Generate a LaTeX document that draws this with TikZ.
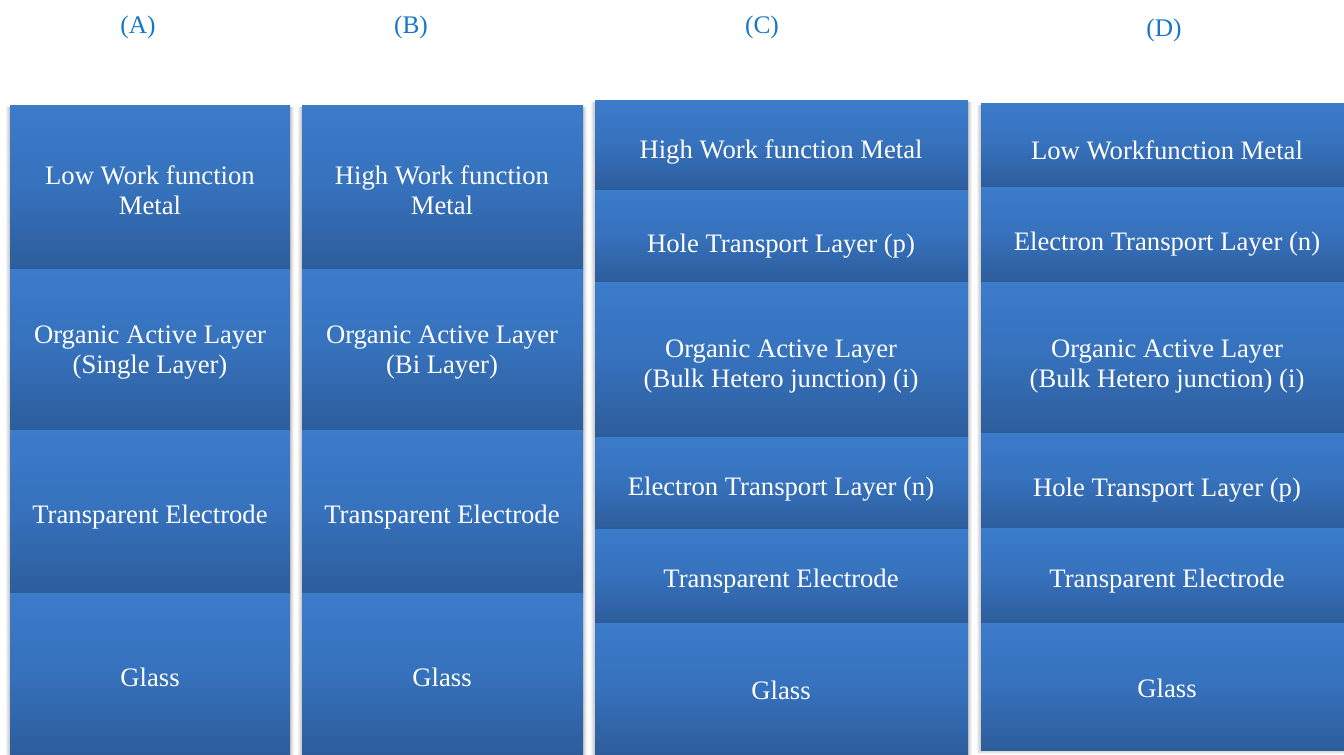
\documentclass[tikz,border=0pt]{standalone}
\usepackage{fontspec}
\setmainfont{Liberation Serif}
\usetikzlibrary{fit}
\definecolor{laytop}{HTML}{3B7CCB}
\definecolor{laymid}{HTML}{3671BC}
\definecolor{laybot}{HTML}{2D5D9B}
\definecolor{labblue}{HTML}{1776C6}
\tikzset{
  layer/.style={inner sep=0pt, outer sep=0pt, draw=none,
    top color=laytop, bottom color=laybot, middle color=laymid},
  txt/.style={text=white, font=\fontsize{20}{22.5}\selectfont, align=center, inner sep=0pt},
  txtone/.style={txt, yshift=-2.2pt},
  lab/.style={text=labblue, font=\fontsize{19}{22}\selectfont, inner sep=0pt, yshift=-1.5pt},
  shad/.style={fill=black, opacity=0.05, draw=none}
}
\newcommand{\colshadow}[4]{%
  \foreach \d in {1,2,3,4}{\fill[shad] (#1-\d,#3+2) rectangle (#2+\d,#4+\d);}%
}
\begin{document}
\begin{tikzpicture}[x=0.75pt,y=-0.75pt]
\useasboundingbox (0,0) rectangle (1344,754);
\fill[white] (0,0) rectangle (1344,754);

% labels
\node[lab] (labA) at (138,25) {(A)};
\node[lab] (labB) at (411,25) {(B)};
\node[lab] (labC) at (762,25) {(C)};
\node[lab] (labD) at (1164,28) {(D)};

% shadows
\colshadow{10}{290}{105}{754}
\colshadow{302}{583}{105}{754}
\colshadow{595}{968}{100}{754}
\colshadow{981}{1344}{103}{750}

% Column A
\node[layer, fit={(10,105)(290,269)}] (a1) {};
\node[layer, fit={(10,269)(290,430)}] (a2) {};
\node[layer, fit={(10,430)(290,593)}] (a3) {};
\node[layer, fit={(10,593)(290,754)}] (a4) {};
\node[txt] (ta1) at (150,190) {Low Work function\\Metal};
\node[txt] (ta2) at (150,353) {Organic Active Layer\\(Single Layer)};
\node[txtone] (ta3) at (150,514) {Transparent Electrode};
\node[txt] (ta4) at (150,677) {Glass};

% Column B
\node[layer, fit={(302,105)(583,269)}] (b1) {};
\node[layer, fit={(302,269)(583,430)}] (b2) {};
\node[layer, fit={(302,430)(583,593)}] (b3) {};
\node[layer, fit={(302,593)(583,754)}] (b4) {};
\node[txt] (tb1) at (442,190) {High Work function\\Metal};
\node[txt] (tb2) at (442,353) {Organic Active Layer\\(Bi Layer)};
\node[txtone] (tb3) at (442,514) {Transparent Electrode};
\node[txt] (tb4) at (442,677) {Glass};

% Column C
\node[layer, fit={(595,100)(968,190)}] (c1) {};
\node[layer, fit={(595,190)(968,282)}] (c2) {};
\node[layer, fit={(595,282)(968,437)}] (c3) {};
\node[layer, fit={(595,437)(968,529)}] (c4) {};
\node[layer, fit={(595,529)(968,623)}] (c5) {};
\node[layer, fit={(595,623)(968,754)}] (c6) {};
\node[txtone] (tc1) at (781,149) {High Work function Metal};
\node[txtone] (tc2) at (781,243) {Hole Transport Layer (p)};
\node[txt] (tc3) at (781,366) {Organic Active Layer\\(Bulk Hetero junction) (i)};
\node[txtone] (tc4) at (781,486) {Electron Transport Layer (n)};
\node[txtone] (tc5) at (781,578) {Transparent Electrode};
\node[txt] (tc6) at (781,690) {Glass};

% Column D
\node[layer, fit={(981,103)(1344,187)}] (d1) {};
\node[layer, fit={(981,187)(1344,282)}] (d2) {};
\node[layer, fit={(981,282)(1344,433)}] (d3) {};
\node[layer, fit={(981,433)(1344,528)}] (d4) {};
\node[layer, fit={(981,528)(1344,623)}] (d5) {};
\node[layer, fit={(981,623)(1344,750)}] (d6) {};
\node[txtone] (td1) at (1167,147) {Low Workfunction Metal};
\node[txtone] (td2) at (1167,241) {Electron Transport Layer (n)};
\node[txt] (td3) at (1167,366) {Organic Active Layer\\(Bulk Hetero junction) (i)};
\node[txtone] (td4) at (1167,487) {Hole Transport Layer (p)};
\node[txtone] (td5) at (1167,578) {Transparent Electrode};
\node[txt] (td6) at (1167,688) {Glass};
\end{tikzpicture}
\end{document}
